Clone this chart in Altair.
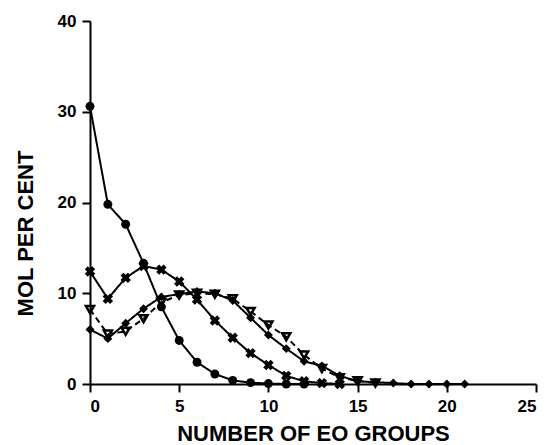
import altair as alt
import pandas as pd

# Number of EO groups (x) and mol per cent (y) for four distributions
x_a = [0, 1, 2, 3, 4, 5, 6, 7, 8, 9, 10, 11, 12]
y_a = [30.6, 19.8, 17.6, 13.3, 8.5, 4.8, 2.4, 1.1, 0.4, 0.15, 0.05, 0.0, 0.0]

x_b = [0, 1, 2, 3, 4, 5, 6, 7, 8, 9, 10, 11, 12, 13, 14]
y_b = [12.4, 9.4, 11.7, 13.0, 12.6, 11.3, 9.3, 7.0, 5.1, 3.4, 2.1, 0.9, 0.3, 0.1, 0.0]

x_c = [0, 1, 2, 3, 4, 5, 6, 7, 8, 9, 10, 11, 12, 13, 14, 15, 16, 17, 18, 19, 20, 21]
y_c = [6.0, 5.0, 6.7, 8.3, 9.6, 9.9, 10.2, 10.0, 9.2, 7.3, 5.4, 3.9, 2.5, 2.0, 0.9,
       0.3, 0.2, 0.1, 0.0, 0.0, 0.0, 0.0]

x_d = [0, 1, 2, 3, 4, 5, 6, 7, 8, 9, 10, 11, 12, 13, 14, 15, 16]
y_d = [8.2, 5.5, 5.8, 7.2, 9.0, 9.8, 10.0, 9.9, 9.4, 8.0, 6.5, 5.2, 3.2, 1.7, 0.7, 0.35, 0.1]

series_names = ["A", "B", "C", "D"]
x_ticks = [0, 5, 10, 15, 20, 25]
y_ticks = [0, 10, 20, 30, 40]

rows = []
for name, xs, ys in zip(series_names, [x_a, x_b, x_c, x_d], [y_a, y_b, y_c, y_d]):
    for xv, yv in zip(xs, ys):
        rows.append({"series": name, "n": xv, "mol": yv})
df = pd.DataFrame(rows)

x_enc = alt.X("n:Q", scale=alt.Scale(domain=[0, 25], nice=False),
              axis=alt.Axis(values=x_ticks, title="NUMBER OF EO GROUPS",
                            titleY=56, titleBaseline="alphabetic"))
y_enc = alt.Y("mol:Q", scale=alt.Scale(domain=[0, 40], nice=False),
              axis=alt.Axis(values=y_ticks, title="MOL PER CENT",
                            titleX=-58, titleY=212, titleAngle=270,
                            titleBaseline="alphabetic", titleAlign="center"))

dash_scale = alt.Scale(domain=series_names, range=[[1, 0], [1, 0], [1, 0], [6, 4]])
shape_scale = alt.Scale(domain=series_names,
                        range=["circle", "cross", "diamond", "triangle-down"])

lines = alt.Chart(df).mark_line(color="black", strokeWidth=2).encode(
    x=x_enc, y=y_enc,
    detail="series:N",
    strokeDash=alt.StrokeDash("series:N", scale=dash_scale, legend=None),
)

pts_filled = alt.Chart(df).transform_filter(
    "datum.series == 'A' || datum.series == 'C'"
).mark_point(filled=True, color="black", size=80, opacity=1).encode(
    x=x_enc, y=y_enc,
    shape=alt.Shape("series:N", scale=shape_scale, legend=None),
)

pts_x = alt.Chart(df).transform_filter("datum.series == 'B'").mark_point(
    filled=True, color="black", size=110, shape="cross", angle=45, opacity=1
).encode(x=x_enc, y=y_enc)

pts_tri = alt.Chart(df).transform_filter("datum.series == 'D'").mark_point(
    filled=False, color="black", size=65, shape="triangle-down", strokeWidth=2.5, opacity=1
).encode(x=x_enc, y=y_enc)

chart = alt.layer(lines, pts_filled, pts_x, pts_tri).properties(
    width=446, height=363,
    padding={"left": 90, "top": 21, "right": 12, "bottom": 61},
    autosize=alt.AutoSizeParams(type="none"),
    background="white",
).configure_view(stroke=None).configure_axis(
    grid=False,
    domainColor="black", domainWidth=2,
    tickColor="black", tickWidth=2, tickSize=8,
    labelFont="Liberation Sans", labelFontWeight="bold", labelFontSize=17,
    labelColor="black", labelPadding=6,
    titleFont="Liberation Sans", titleFontWeight="bold", titleFontSize=22,
    titleColor="black",
).configure_axisX(labelPadding=6)

chart.save("out.html", embed_options={"renderer": "svg", "actions": False})
